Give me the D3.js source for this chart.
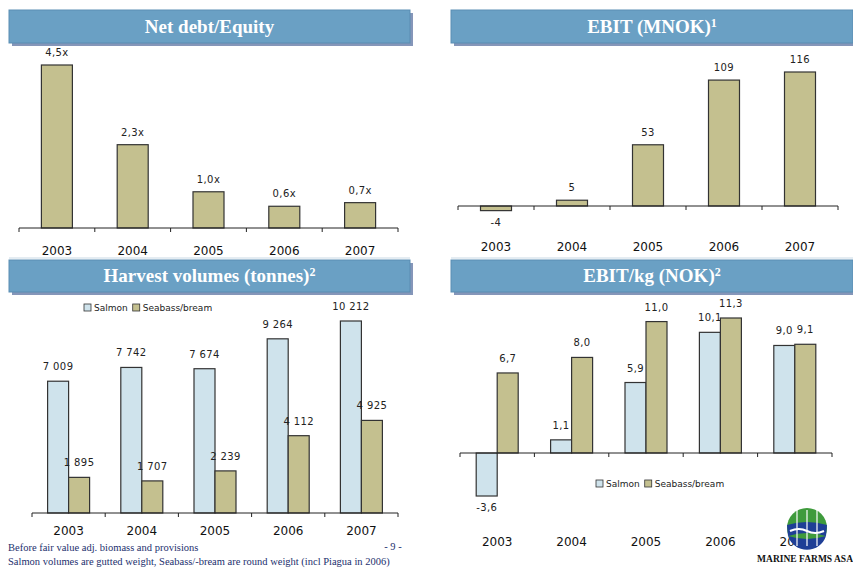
<!DOCTYPE html>
<html lang="en">
<head>
<meta charset="UTF-8">
<title>Marine Farms ASA - key figures</title>
<script src="https://d3js.org/d3.v7.min.js"></script>
<style>
  body { margin: 0; background: #fff; }
  svg { display: block; }
  .val { font-family: 'DejaVu Sans', Verdana, sans-serif; font-size: 10px; fill: #222; letter-spacing: 0.4px; }
  .year { font-family: 'DejaVu Sans', Verdana, sans-serif; font-size: 12px; fill: #111; }
  .ttl { font-family: 'Liberation Serif', 'Times New Roman', serif; font-weight: bold; font-size: 19px; fill: #fff; }
  .leg { font-family: 'DejaVu Sans', Verdana, sans-serif; font-size: 9px; fill: #222; }
  .note { font-family: 'Liberation Serif', 'Times New Roman', serif; font-size: 10.5px; fill: #1c2f6e; }
</style>
</head>
<body>
<svg id="chart" width="853" height="569"></svg>
<script>
// data
const years = ["2003", "2004", "2005", "2006", "2007"];
const netDebtEquity = [4.5, 2.3, 1.0, 0.6, 0.7];
const netDebtLabels = ["4,5x", "2,3x", "1,0x", "0,6x", "0,7x"];
const ebitMnok = [-4, 5, 53, 109, 116];
const harvestSalmon = [7009, 7742, 7674, 9264, 10212];
const harvestSeabass = [1895, 1707, 2239, 4112, 4925];
const ebitKgSalmon = [-3.6, 1.1, 5.9, 10.1, 9.0];
const ebitKgSeabass = [6.7, 8.0, 11.0, 11.3, 9.1];
const seriesNames = ["Salmon", "Seabass/bream"];

const olive = "#c4c08f";
const salmonBlue = "#cfe3ec";
const svg = d3.select("#chart");

// number formats as in the slide (space thousands, comma decimals, plain hyphen minus)
const fmtInt = v => d3.format(",")(v).replace(/,/g, " ").replace("\u2212", "-");
const fmtDec = v => d3.format(".1f")(v).replace(".", ",").replace("\u2212", "-");

function titleBox(x, y, w, h, html) {
  const g = svg.append("g");
  g.append("rect").attr("x", x + 3).attr("y", y + 3).attr("width", w).attr("height", h)
    .attr("fill", "#33508a").attr("opacity", 0.6);
  g.append("rect").attr("x", x).attr("y", y).attr("width", w).attr("height", h)
    .attr("fill", "#6aa0c4").attr("stroke", "#5a8db3").attr("stroke-width", 1);
  const t = g.append("text").attr("class", "ttl").attr("x", x + w / 2).attr("y", y + h / 2 + 6)
    .attr("text-anchor", "middle");
  t.text(html.main);
  if (html.sup) t.append("tspan").attr("dy", -6).attr("font-size", 12).text(html.sup);
}

function axisLine(x, y0, tickDown) {
  const g = svg.append("g");
  const [a, b] = x.range();
  g.append("line").attr("x1", a).attr("x2", b).attr("y1", y0).attr("y2", y0)
    .attr("stroke", "#222").attr("stroke-width", 1);
  const edges = years.map(d => x(d)).concat([b]);
  g.selectAll("line.tk").data(edges).join("line").attr("class", "tk")
    .attr("x1", d => d).attr("x2", d => d).attr("y1", y0).attr("y2", y0 + tickDown)
    .attr("stroke", "#222");
}

function yearLabels(x, yPos) {
  svg.append("g").selectAll("text").data(years).join("text")
    .attr("class", "year").attr("text-anchor", "middle")
    .attr("x", d => x(d) + x.bandwidth() / 2).attr("y", yPos).text(d => d);
}

function legend(x0, y0) {
  const g = svg.append("g").attr("transform", `translate(${x0},${y0})`);
  const cols = [salmonBlue, olive];
  let cx = 0;
  seriesNames.forEach((n, i) => {
    g.append("rect").attr("x", cx).attr("y", -7).attr("width", 7).attr("height", 7)
      .attr("fill", cols[i]).attr("stroke", "#333").attr("stroke-width", 0.8);
    const t = g.append("text").attr("class", "leg").attr("x", cx + 10).attr("y", 0).text(n);
    cx += 10 + t.node().getComputedTextLength() + 5;
  });
}

// ---- Panel 1: Net debt/Equity
titleBox(9, 10, 401, 33, { main: "Net debt/Equity" });
{
  const x = d3.scaleBand().domain(years).range([19, 398]);
  const y = d3.scaleLinear().domain([0, 4.5]).range([228, 65]);
  const bw = 31;
  svg.append("g").selectAll("rect").data(netDebtEquity).join("rect")
    .attr("x", (d, i) => x(years[i]) + (x.bandwidth() - bw) / 2)
    .attr("y", d => y(d)).attr("width", bw).attr("height", d => y(0) - y(d))
    .attr("fill", olive).attr("stroke", "#333").attr("stroke-width", 1.2);
  svg.append("g").selectAll("text").data(netDebtEquity).join("text")
    .attr("class", "val").attr("text-anchor", "middle")
    .attr("x", (d, i) => x(years[i]) + x.bandwidth() / 2)
    .attr("y", d => y(d) - 9).text((d, i) => netDebtLabels[i]);
  axisLine(x, 228, 4);
  yearLabels(x, 255);
  svg.append("line").attr("x1", 9).attr("x2", 410).attr("y1", 258).attr("y2", 258)
    .attr("stroke", "#dbe6ee").attr("stroke-width", 1.5);
}

// ---- Panel 2: EBIT (MNOK)
titleBox(451, 10, 402, 33, { main: "EBIT (MNOK)", sup: "1" });
{
  const x = d3.scaleBand().domain(years).range([458, 838]);
  const y = d3.scaleLinear().domain([0, 116]).range([206, 72]);
  const bw = 31;
  svg.append("g").selectAll("rect").data(ebitMnok).join("rect")
    .attr("x", (d, i) => x(years[i]) + (x.bandwidth() - bw) / 2)
    .attr("y", d => Math.min(y(d), y(0))).attr("width", bw)
    .attr("height", d => Math.abs(y(0) - y(d)))
    .attr("fill", olive).attr("stroke", "#333").attr("stroke-width", 1.2);
  svg.append("g").selectAll("text").data(ebitMnok).join("text")
    .attr("class", "val").attr("text-anchor", "middle")
    .attr("x", (d, i) => x(years[i]) + x.bandwidth() / 2)
    .attr("y", d => d >= 0 ? y(d) - 9 : y(d) + 15).text(d => d);
  axisLine(x, 206, 4);
  yearLabels(x, 251);
  svg.append("line").attr("x1", 451).attr("x2", 853).attr("y1", 258).attr("y2", 258)
    .attr("stroke", "#dbe6ee").attr("stroke-width", 1.5);
}

// grouped bars helper
function grouped(x, y, s1, s2, fmt, bw) {
  const g = svg.append("g");
  const series = [s1, s2];
  const cols = [salmonBlue, olive];
  series.forEach((s, k) => {
    const xo = i => x(years[i]) + x.bandwidth() / 2 - bw + k * bw;
    g.append("g").selectAll("rect").data(s).join("rect")
      .attr("x", (d, i) => xo(i))
      .attr("y", d => Math.min(y(d), y(0))).attr("width", bw)
      .attr("height", d => Math.abs(y(0) - y(d)))
      .attr("fill", cols[k]).attr("stroke", "#333").attr("stroke-width", 1.2);
    g.append("g").selectAll("text").data(s).join("text")
      .attr("class", "val").attr("text-anchor", "middle")
      .attr("x", (d, i) => xo(i) + bw / 2)
      .attr("y", d => d >= 0 ? y(d) - 11 : y(d) + 15).text(d => fmt(d));
  });
}

// ---- Panel 3: Harvest volumes
titleBox(9, 260, 401, 32, { main: "Harvest volumes (tonnes)", sup: "2" });
{
  const x = d3.scaleBand().domain(years).range([32, 398]);
  const y = d3.scaleLinear().domain([0, 10212]).range([513, 321]);
  grouped(x, y, harvestSalmon, harvestSeabass, fmtInt, 21);
  axisLine(x, 513, 4);
  yearLabels(x, 535);
  legend(84, 311);
}

// ---- Panel 4: EBIT/kg
titleBox(451, 260, 402, 32, { main: "EBIT/kg (NOK)", sup: "2" });
{
  const x = d3.scaleBand().domain(years).range([460, 832]);
  const y = d3.scaleLinear().domain([0, 11.3]).range([453, 318]);
  grouped(x, y, ebitKgSalmon, ebitKgSeabass, fmtDec, 21);
  axisLine(x, 453, 4);
  yearLabels(x, 546);
  legend(596, 487);
}

// footnotes
svg.append("text").attr("class", "note").attr("x", 8).attr("y", 551)
  .text("Before fair value adj. biomass and provisions");
svg.append("text").attr("class", "note").attr("x", 8).attr("y", 565)
  .text("Salmon volumes are gutted weight, Seabass/-bream are round weight (incl Piagua in 2006)");
svg.append("text").attr("class", "note").attr("x", 393).attr("y", 550)
  .attr("text-anchor", "middle").attr("font-size", 12).text("- 9 -");

// company logo
{
  const g = svg.append("g").attr("transform", "translate(807,528)");
  g.append("circle").attr("r", 20).attr("fill", "#3f9b3c");
  g.append("path").attr("d", "M-20,-3 Q0,-9 20,-3 L19,8 Q0,2 -19,8 Z").attr("fill", "#1f3f96");
  g.append("path").attr("d", "M-19,8 Q0,14 19,8 A20,20 0 0 1 -19,8 Z").attr("fill", "#1f3f96");
  [-10, 0, 10].forEach(v => {
    g.append("line").attr("x1", v).attr("x2", v).attr("y1", -18).attr("y2", 18)
      .attr("stroke", "#fff").attr("stroke-width", 1.2);
  });
  g.append("path").attr("d", "M-17,3 Q-8,-1 0,3 Q8,7 17,3").attr("fill", "none")
    .attr("stroke", "#fff").attr("stroke-width", 2);
  svg.append("text").attr("x", 853).attr("y", 562).attr("text-anchor", "end")
    .attr("font-family", "'Liberation Serif', serif").attr("font-weight", "bold")
    .attr("font-size", 9.5).attr("fill", "#111").text("MARINE FARMS ASA");
}
</script>
</body>
</html>
